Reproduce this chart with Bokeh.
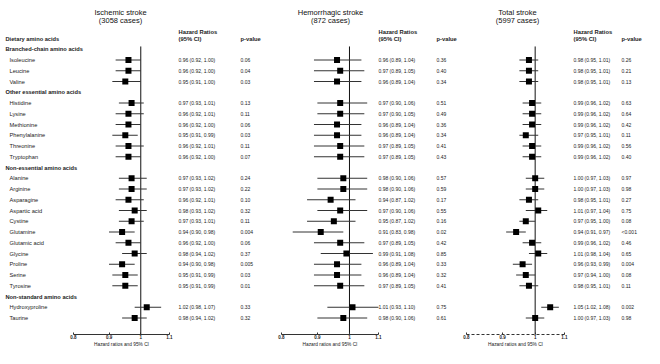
import math
from bokeh.plotting import figure
from bokeh.models import (Range1d, LogScale, LinearAxis, FixedTicker,
                          CustomJSTickFormatter, ColumnDataSource)
from bokeh.core.properties import value
from bokeh.embed import file_html
from bokeh.resources import INLINE

# ---------------- data ----------------
groups = ["Branched-chain amino acids", "Other essential amino acids",
          "Non-essential amino acids", "Non-standard amino acids"]
group_sizes = [3, 6, 11, 2]
amino_acids = ["Isoleucine", "Leucine", "Valine",
               "Histidine", "Lysine", "Methionine", "Phenylalanine", "Threonine", "Tryptophan",
               "Alanine", "Arginine", "Asparagine", "Aspartic acid", "Cystine", "Glutamine",
               "Glutamic acid", "Glycine", "Proline", "Serine", "Tyrosine",
               "Hydroxyproline", "Taurine"]

isch_hr = [0.96, 0.96, 0.95, 0.97, 0.96, 0.96, 0.95, 0.96, 0.96,
           0.97, 0.97, 0.96, 0.98, 0.97, 0.94, 0.96, 0.98, 0.94, 0.95, 0.95, 1.02, 0.98]
isch_lo = [0.92, 0.92, 0.91, 0.93, 0.92, 0.92, 0.91, 0.92, 0.92,
           0.93, 0.93, 0.92, 0.93, 0.93, 0.90, 0.92, 0.94, 0.90, 0.91, 0.91, 0.98, 0.94]
isch_hi = [1.00, 1.00, 1.00, 1.01, 1.01, 1.00, 0.99, 1.01, 1.00,
           1.02, 1.02, 1.01, 1.02, 1.01, 0.98, 1.00, 1.02, 0.98, 0.99, 0.99, 1.07, 1.02]
isch_p = ["0.06", "0.04", "0.03", "0.13", "0.11", "0.06", "0.03", "0.11", "0.07",
          "0.24", "0.22", "0.10", "0.32", "0.11", "0.004", "0.06", "0.37", "0.005", "0.03", "0.01",
          "0.33", "0.32"]

hem_hr = [0.96, 0.97, 0.96, 0.97, 0.97, 0.96, 0.96, 0.97, 0.97,
          0.98, 0.98, 0.94, 0.97, 0.95, 0.91, 0.97, 0.99, 0.96, 0.96, 0.97, 1.01, 0.98]
hem_lo = [0.89, 0.89, 0.89, 0.90, 0.90, 0.89, 0.89, 0.89, 0.89,
          0.90, 0.90, 0.87, 0.90, 0.87, 0.83, 0.89, 0.91, 0.89, 0.89, 0.89, 0.93, 0.90]
hem_hi = [1.04, 1.05, 1.04, 1.06, 1.05, 1.04, 1.04, 1.05, 1.05,
          1.06, 1.06, 1.02, 1.06, 1.02, 0.98, 1.05, 1.08, 1.04, 1.04, 1.05, 1.10, 1.06]
hem_p = ["0.36", "0.40", "0.34", "0.51", "0.49", "0.36", "0.34", "0.41", "0.43",
         "0.57", "0.59", "0.17", "0.55", "0.16", "0.02", "0.42", "0.85", "0.33", "0.32", "0.41",
         "0.75", "0.61"]

tot_hr = [0.98, 0.98, 0.98, 0.99, 0.99, 0.99, 0.97, 0.99, 0.99,
          1.00, 1.00, 0.98, 1.01, 0.97, 0.94, 0.99, 1.01, 0.96, 0.97, 0.98, 1.05, 1.00]
tot_lo = [0.95, 0.95, 0.95, 0.96, 0.96, 0.96, 0.95, 0.96, 0.96,
          0.97, 0.97, 0.95, 0.97, 0.95, 0.91, 0.96, 0.98, 0.93, 0.94, 0.95, 1.02, 0.97]
tot_hi = [1.01, 1.01, 1.01, 1.02, 1.02, 1.02, 1.01, 1.02, 1.02,
          1.03, 1.03, 1.01, 1.04, 1.00, 0.97, 1.02, 1.04, 0.99, 1.00, 1.01, 1.08, 1.03]
tot_p = ["0.26", "0.21", "0.13", "0.63", "0.64", "0.42", "0.11", "0.56", "0.40",
         "0.97", "0.98", "0.27", "0.75", "0.08", "<0.001", "0.46", "0.65", "0.004", "0.08", "0.11",
         "0.002", "0.98"]

panel_titles = ["Ischemic stroke", "Hemorrhagic stroke", "Total stroke"]
panel_cases = ["(3058 cases)", "(872 cases)", "(5997 cases)"]
axis_ticks = [0.8, 0.9, 1.0, 1.1]

# ---------------- layout ----------------
W, H = 644, 348
ROW0, DY = 38.0, 10.75
FONT = value("Liberation Sans")
TXT = "#222222"

def row_of(py):
    return (py - ROW0) / DY

p = figure(width=W, height=H, x_range=Range1d(0, W),
           y_range=Range1d(row_of(H), row_of(0)),
           output_backend="svg", toolbar_location=None,
           x_axis_location=None, y_axis_location=None,
           min_border=0, outline_line_color=None)
p.xgrid.visible = False
p.ygrid.visible = False

# rows
header_rows, item_rows = [], []
r = 1
for n in group_sizes:
    header_rows.append(r)
    r += 1
    for _ in range(n):
        item_rows.append(r)
        r += 1

# left labels
p.text(x=[5] * (len(groups) + 1), y=[0] + header_rows, text=["Dietary amino acids"] + groups,
       text_font=FONT, text_font_size="5.7px", text_font_style="bold",
       text_baseline="middle", text_align="left", text_color=TXT)
p.text(x=[9] * len(amino_acids), y=item_rows, text=amino_acids,
       text_font=FONT, text_font_size="5.7px", text_baseline="middle",
       text_align="left", text_color=TXT)

panels = [
    dict(name="isch", hr=isch_hr, lo=isch_lo, hi=isch_hi, pv=isch_p,
         px08=73, px11=169, hr_x=178, p_x=240, title_x=120, dash="solid"),
    dict(name="hem", hr=hem_hr, lo=hem_lo, hi=hem_hi, pv=hem_p,
         px08=281, px11=378, hr_x=378, p_x=436, title_x=330, dash="solid"),
    dict(name="tot", hr=tot_hr, lo=tot_lo, hi=tot_hi, pv=tot_p,
         px08=466, px11=564, hr_x=573, p_x=621, title_x=517, dash="3 2"),
]

axis_row = row_of(334)
xr, xs = {}, {}
for i, pn in enumerate(panels):
    k = math.log(1.1 / 0.8) / (pn["px11"] - pn["px08"])
    start = math.exp(math.log(0.8) - pn["px08"] * k)
    end = math.exp(math.log(1.1) + (W - pn["px11"]) * k)
    xr[pn["name"]] = Range1d(start, end)
    xs[pn["name"]] = LogScale()
p.extra_x_ranges = xr
p.extra_x_scales = xs

for i, pn in enumerate(panels):
    name = pn["name"]
    src = ColumnDataSource(dict(
        y=item_rows, hr=pn["hr"], lo=pn["lo"], hi=pn["hi"],
        label=[f"{a:.2f} ({b:.2f}, {c:.2f})" for a, b, c in zip(pn["hr"], pn["lo"], pn["hi"])],
        pv=pn["pv"]))
    # reference line at HR = 1
    p.segment(x0=[1.0], x1=[1.0], y0=[0.74], y1=[axis_row], x_range_name=name,
              line_color="#111111", line_width=1)
    p.segment(x0="lo", x1="hi", y0="y", y1="y", source=src, x_range_name=name,
              line_color="#333333", line_width=1)
    p.scatter(x="hr", y="y", source=src, x_range_name=name, marker="square",
              size=6, fill_color="black", line_color="black", line_width=0)
    # text columns
    p.text(x=pn["hr_x"], y="y", text="label", source=src,
           text_font=FONT, text_font_size="5px", text_baseline="middle", text_color=TXT)
    p.text(x=pn["p_x"], y="y", text="pv", source=src,
           text_font=FONT, text_font_size="5px", text_baseline="middle", text_color=TXT)
    p.text(x=[pn["hr_x"], pn["hr_x"]], y=[row_of(31), 0], text=["Hazard Ratios", "(95% CI)"],
           text_font=FONT, text_font_size="5.8px", text_font_style="bold",
           text_baseline="middle", text_color=TXT)
    p.text(x=[pn["p_x"]], y=[0], text=["p-value"],
           text_font=FONT, text_font_size="5.8px", text_font_style="bold",
           text_baseline="middle", text_color=TXT)
    p.text(x=[pn["title_x"], pn["title_x"]], y=[row_of(12), row_of(20)],
           text=[panel_titles[i], panel_cases[i]],
           text_font=FONT, text_font_size="7.5px", text_baseline="middle",
           text_align="center", text_color="#111111")
    # axis
    ax = LinearAxis(x_range_name=name, fixed_location=axis_row, bounds=(0.8, 1.1),
                    ticker=FixedTicker(ticks=axis_ticks, minor_ticks=[]),
                    formatter=CustomJSTickFormatter(code="return String(tick)"),
                    axis_label="Hazard ratios and 95% CI")
    ax.axis_line_color = "#333333"
    ax.axis_line_width = 1
    ax.axis_line_dash = pn["dash"]
    ax.major_tick_in = 2
    ax.major_tick_out = 0
    ax.major_tick_line_color = "#333333"
    ax.minor_tick_in = 0
    ax.minor_tick_out = 0
    ax.major_label_text_font = "Liberation Sans"
    ax.major_label_text_font_size = "4.5px"
    ax.major_label_text_font_style = "bold"
    ax.major_label_text_color = TXT
    ax.major_label_standoff = 0
    ax.axis_label_text_font = "Liberation Sans"
    ax.axis_label_text_font_size = "4.8px"
    ax.axis_label_text_font_style = "normal"
    ax.axis_label_text_color = TXT
    ax.axis_label_standoff = 0
    p.add_layout(ax, "below")

open("out.html", "w").write(file_html(p, INLINE))
